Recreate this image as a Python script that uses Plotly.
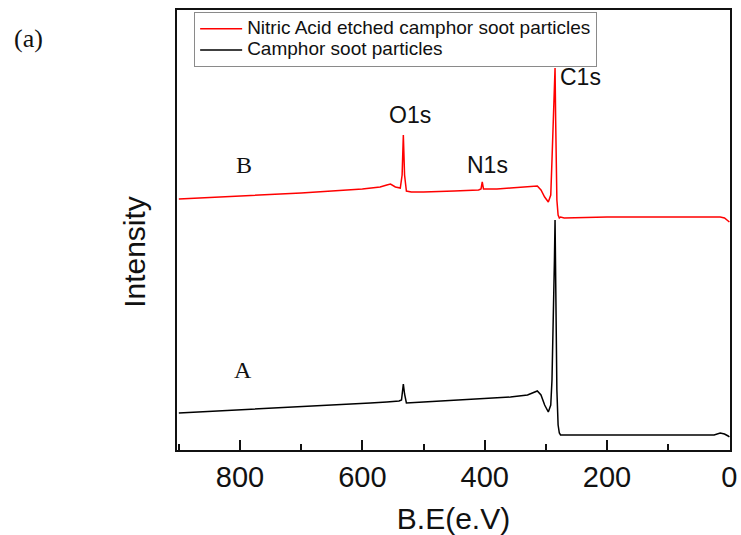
import plotly.graph_objects as go

# Binding energy (eV) and intensity (a.u.)
be_b = [900, 800, 700, 600, 571, 560, 554, 546, 538, 535, 533, 531, 528, 520, 500, 450,
        410, 406, 404, 402, 380, 358, 330, 318, 314, 308, 302, 296, 292, 290, 288, 286,
        285, 284, 282, 280, 278, 276, 270, 200, 150, 100, 47, 15, 8, 2, 0]
int_b = [251, 254, 257, 261, 263, 265, 266, 263, 262, 275, 315, 275, 259, 258, 258, 259,
         260, 261, 268, 261, 261, 262, 263, 264, 264, 260, 253, 248, 255, 290, 330, 370,
         382, 330, 250, 235, 232, 233, 232, 233, 233, 233, 233, 233, 232, 229, 228]

be_a = [900, 800, 700, 600, 587, 560, 540, 536, 534, 533, 531, 528, 500, 450, 400, 358,
        330, 318, 314, 308, 302, 296, 292, 290, 288, 286, 285, 284, 282, 280, 278, 276,
        270, 200, 100, 25, 15, 8, 2, 0]
int_a = [37, 40, 43, 46, 47, 48, 49, 50, 58, 66, 56, 47, 48, 50, 52, 53,
         55, 58, 59, 55, 45, 38, 45, 70, 120, 190, 230, 150, 60, 25, 17, 15,
         15, 15, 15, 15, 17, 16, 14, 13]

name_b = "Nitric Acid etched camphor soot particles"
name_a = "Camphor soot particles"

peak_labels = ["O1s", "N1s", "C1s"]
peak_x = [522, 396, 244]
peak_y = [335, 285, 373]

x_ticks = [800, 600, 400, 200, 0]

SANS = "Arial, Liberation Sans, sans-serif"
SERIF = "Times New Roman, Liberation Serif, serif"


def legend_name(s):
    return '<span style="font-size:19px">' + s + '</span>'


fig = go.Figure()
fig.add_trace(go.Scatter(x=be_b, y=int_b, mode="lines", name=legend_name(name_b),
                         line=dict(color="#ff0000", width=1.5)))
fig.add_trace(go.Scatter(x=be_a, y=int_a, mode="lines", name=legend_name(name_a),
                         line=dict(color="#000000", width=1.5)))

for t, xv, yv in zip(peak_labels, peak_x, peak_y):
    fig.add_annotation(x=xv, y=yv, text=t, showarrow=False,
                       font=dict(family=SANS, size=23, color="#111"))

fig.add_annotation(x=793, y=285, text="B", showarrow=False,
                   font=dict(family=SERIF, size=24, color="#111"))
fig.add_annotation(x=795, y=80, text="A", showarrow=False,
                   font=dict(family=SERIF, size=24, color="#111"))
fig.add_annotation(xref="paper", yref="paper", x=-0.268, y=0.935, text="(a)",
                   showarrow=False, xanchor="center", yanchor="middle",
                   font=dict(family=SERIF, size=26, color="#111"))
fig.add_annotation(xref="paper", yref="paper", x=-0.078, y=0.45, text="Intensity",
                   showarrow=False, xanchor="center", yanchor="middle", textangle=-90,
                   font=dict(family=SANS, size=30, color="#111"))

fig.update_layout(
    width=741, height=535,
    margin=dict(l=177, r=11, t=10, b=85),
    paper_bgcolor="white", plot_bgcolor="white",
    showlegend=True,
    legend=dict(x=0.031, y=0.995, xanchor="left", yanchor="top",
                bgcolor="white", bordercolor="#8a8a8a", borderwidth=1,
                font=dict(family=SANS, size=14, color="#111"),
                tracegroupgap=0, itemwidth=42),
    xaxis=dict(range=[903, -1], tickvals=x_ticks, ticks="inside", ticklen=10,
               tickwidth=2, tickcolor="#111", automargin=False,
               minor=dict(ticks="inside", ticklen=6, dtick=100, tickwidth=2,
                          tickcolor="#111"),
               showline=True, linecolor="#111", linewidth=2, mirror=True,
               showgrid=False, zeroline=False,
               tickfont=dict(family=SANS, size=29, color="#111"),
               title=dict(text="B.E(e.V)", font=dict(family=SANS, size=30, color="#111"),
                          standoff=17)),
    yaxis=dict(range=[0, 440], showticklabels=False, ticks="", automargin=False,
               showline=True, linecolor="#111", linewidth=2, mirror=True,
               showgrid=False, zeroline=False),
)

fig.write_html("out.html")
